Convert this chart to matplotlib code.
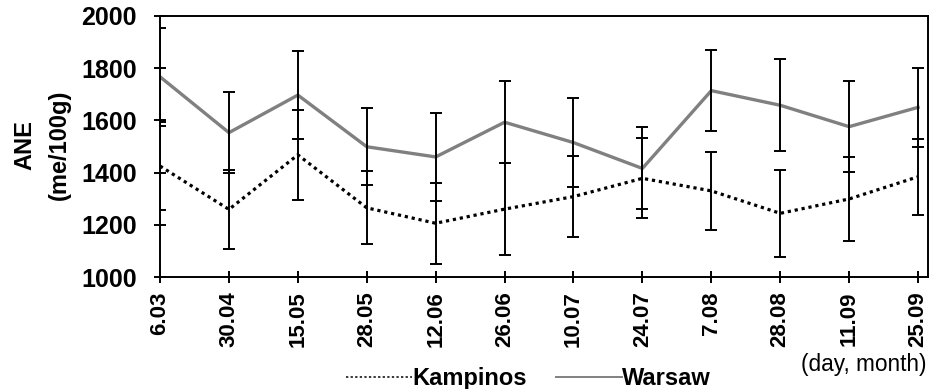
import matplotlib
matplotlib.use('Agg')
import matplotlib.pyplot as plt
from matplotlib.lines import Line2D

plt.rcParams['font.family'] = ['Liberation Sans', 'DejaVu Sans']

dates = ['6.03', '30.04', '15.05', '28.05', '12.06', '26.06',
         '10.07', '24.07', '7.08', '28.08', '11.09', '25.09']

# ANE, me/100g
kampinos = [1425, 1259, 1468, 1265, 1206, 1260, 1308, 1378, 1330, 1244, 1299, 1384]
kampinos_err = [168, 150, 172, 140, 156, 176, 156, 153, 150, 166, 160, 146]
warsaw = [1767, 1553, 1697, 1499, 1460, 1593, 1515, 1416, 1714, 1658, 1576, 1650]
warsaw_err = [188, 155, 169, 148, 170, 157, 171, 157, 155, 176, 175, 152]

x = list(range(len(dates)))

fig = plt.figure(figsize=(9.37, 3.89), dpi=100)
ax = fig.add_axes([0.1708, 0.2879, 0.8196, 0.671])

ax.plot(x, warsaw, color='#808080', lw=2.4, zorder=2)
ax.plot(x, kampinos, color='black', lw=2.3, linestyle=(0, (1, 1.2)), zorder=2)
ax.errorbar(x, warsaw, yerr=warsaw_err, fmt='none', ecolor='black',
            elinewidth=1.4, capsize=4.5, capthick=1.4, zorder=3)
ax.errorbar(x, kampinos, yerr=kampinos_err, fmt='none', ecolor='black',
            elinewidth=1.4, capsize=4.5, capthick=1.4, zorder=3)

ax.set_xlim(0, 11.145)
ax.set_ylim(1000, 2000)
ax.set_yticks(range(1000, 2001, 200))
ax.set_xticks(x)
ax.set_xticklabels(dates, rotation=90, fontsize=16, fontweight='bold')
for lab in ax.get_yticklabels():
    lab.set_fontsize(18)
    lab.set_fontweight('bold')

ax.tick_params(axis='both', direction='inout', length=9, width=1.4, color='black')
ax.tick_params(axis='y', pad=12)
ax.tick_params(axis='x', pad=6)
for s in ax.spines.values():
    s.set_linewidth(1.4)
    s.set_color('black')

fig.text(42 / 937, 0.5 + (389 / 2 - 145) / 389, 'ANE\n(me/100g)', rotation=90,
         ha='center', va='center', multialignment='center',
         fontsize=17, fontweight='bold', linespacing=1.6)

fig.text(0.989, 1 - 365 / 389, '(day, month)', ha='right', va='center', fontsize=16.3)

handles = [Line2D([], [], color='black', lw=1.1, linestyle=(0, (1.5, 1.5))),
           Line2D([], [], color='#808080', lw=1.4)]
fig.legend(handles, ['Kampinos', 'Warsaw'], loc='center', bbox_to_anchor=(0.564, 0.027),
           ncol=2, frameon=False, handlelength=2.8, handletextpad=0.0, columnspacing=1.25,
           borderpad=0, prop={'size': 17, 'weight': 'bold'})

fig.savefig('out.png', dpi=100)
